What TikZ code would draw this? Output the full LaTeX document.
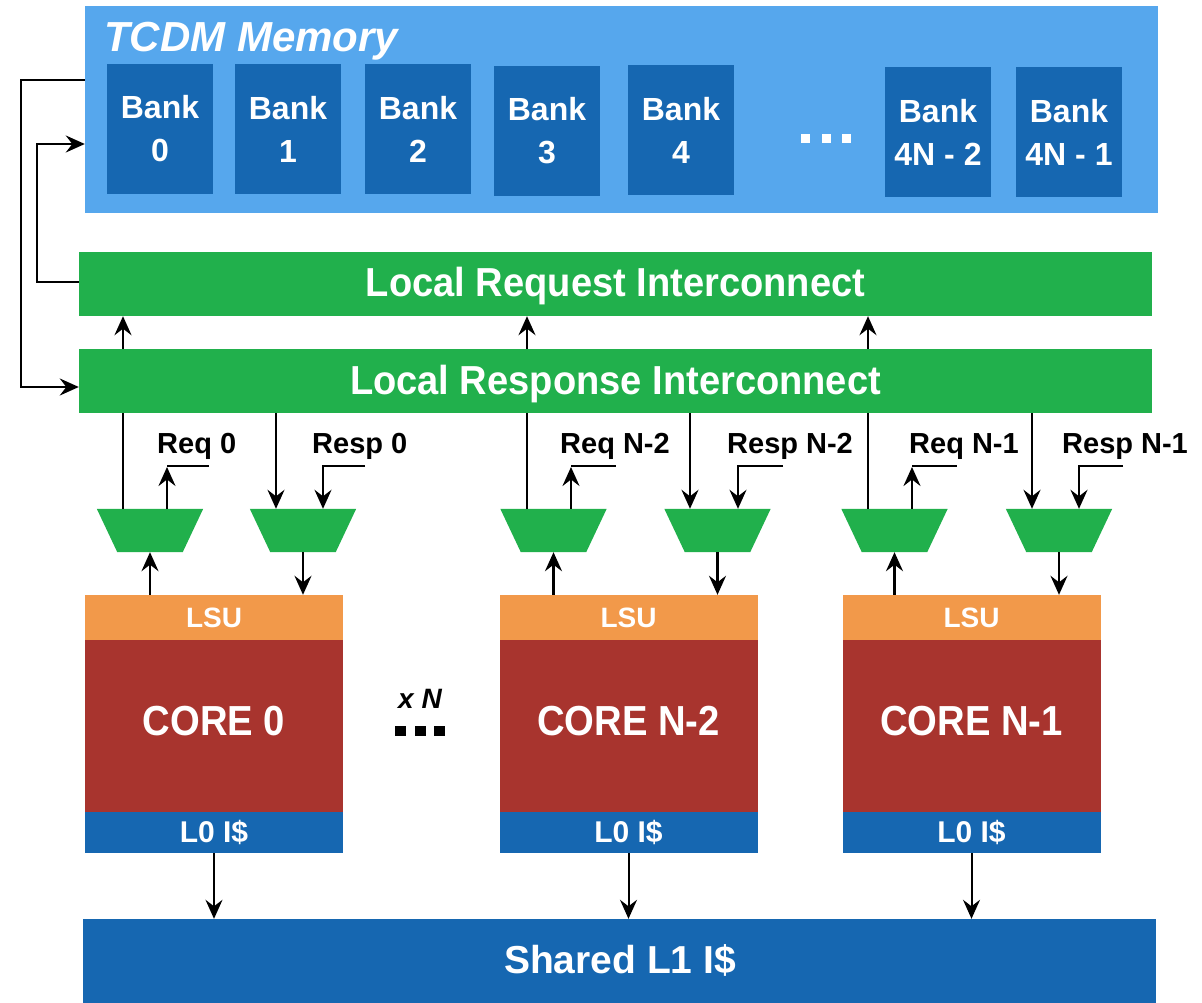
\documentclass[tikz,border=0pt]{standalone}
\usepackage{fontspec}
\setmainfont{Liberation Sans}
\newfontfamily\condsans[FakeStretch=0.94]{Liberation Sans}
\newfontfamily\corefont[FakeStretch=0.91]{Liberation Sans}
\usetikzlibrary{arrows.meta}
\definecolor{tcdmblue}{RGB}{86,167,237}
\definecolor{bankblue}{RGB}{22,103,177}
\definecolor{icgreen}{RGB}{33,176,76}
\definecolor{lsuorange}{RGB}{242,153,74}
\definecolor{corered}{RGB}{168,52,46}
\begin{document}
\begin{tikzpicture}[x=1pt,y=-1pt,
  box/.style={inner sep=0pt, text=white, align=center},
  bankbox/.style={box, fill=bankblue, minimum width=106pt, minimum height=130pt,
    font=\fontsize{32}{43}\selectfont\bfseries},
  icbox/.style={box, fill=icgreen, minimum width=1073pt, minimum height=64pt},
  muxbox/.style={inner sep=0pt, minimum width=106pt, minimum height=43pt},
  lsubox/.style={box, fill=lsuorange, minimum width=258pt, minimum height=45pt},
  corebox/.style={box, fill=corered, minimum width=258pt, minimum height=172pt},
  l0box/.style={box, fill=bankblue, minimum width=258pt, minimum height=41pt},
  txt/.style={inner sep=0pt, anchor=base, text=white},
  ictext/.style={txt, font=\condsans\fontsize{40.5}{42}\selectfont\bfseries},
  coretext/.style={txt, font=\corefont\fontsize{42}{44}\selectfont\bfseries},
  lsutext/.style={txt, font=\fontsize{28}{30}\selectfont\bfseries},
  l0text/.style={txt, font=\fontsize{30}{32}\selectfont\bfseries},
  lbl/.style={inner sep=0pt, anchor=base west, font=\fontsize{29}{30}\selectfont\bfseries},
  arr/.style={draw=black, line width=2.4pt, -{Stealth[length=19pt,width=17pt,inset=6.5pt]}},
  plain/.style={draw=black, line width=2.4pt}
]
\useasboundingbox (0,0) rectangle (1202,1003);
\fill[white] (0,0) rectangle (1202,1003);

% TCDM memory
\node[box, fill=tcdmblue, minimum width=1073pt, minimum height=207pt] (tcdm) at (621.5,109.5) {};
\node[inner sep=0pt, anchor=base west, text=white, font=\fontsize{42}{44}\selectfont\bfseries\itshape] (tcdmt) at (104,52) {TCDM Memory};
\node[bankbox] (b0) at (160,129) {Bank\\0};
\node[bankbox] (b1) at (288,129) {Bank\\1};
\node[bankbox] (b2) at (418,129) {Bank\\2};
\node[bankbox] (b3) at (547,131) {Bank\\3};
\node[bankbox] (b4) at (681,130) {Bank\\4};
\node[bankbox] (b5) at (938,132) {Bank\\4N - 2};
\node[bankbox] (b6) at (1069,132) {Bank\\4N - 1};
\fill[white] (801,134) rectangle (810,143);
\fill[white] (822,134) rectangle (831,143);
\fill[white] (842,134) rectangle (851,143);

% interconnects
\node[icbox] (req) at (615.5,284) {};
\node[icbox] (resp) at (615.5,381) {};
\node[ictext] (reqt) at (615.5,296) {Local Request Interconnect};
\node[ictext] (respt) at (615.5,394) {Local Response Interconnect};

% loop connectors on the left
\draw[arr] (tcdm.west |- 0,80) -- (21,80) -- (21,387) -- (resp.west |- 0,387);
\draw[arr] (req.west |- 0,282) -- (37,282) -- (37,144) -- (tcdm.west |- 0,144);

% muxes
\node[muxbox] (ma0) at (150,530.5) {};
\node[muxbox] (mb0) at (303,530.5) {};
\node[muxbox] (ma1) at (553.5,530.5) {};
\node[muxbox] (mb1) at (717.5,530.5) {};
\node[muxbox] (ma2) at (894.5,530.5) {};
\node[muxbox] (mb2) at (1059,530.5) {};
\foreach \m in {ma0,mb0,ma1,mb1,ma2,mb2}{
  \fill[icgreen] (\m.north west) -- (\m.north east) -- ([xshift=-20.5pt]\m.south east)
    -- ([xshift=20.5pt]\m.south west) -- cycle;
}

% cores
\foreach \i/\x/\n in {0/214/CORE 0, 1/628.5/CORE N-2, 2/971.5/CORE N-1}{
  \node[lsubox] (lsu\i) at (\x,617.5) {};
  \node[corebox] (core\i) at (\x,726) {};
  \node[l0box] (l0\i) at (\x,832.5) {};
  \node[lsutext] (lsut\i) at (\x,627) {LSU};
  \node[coretext] (coret\i) at (\x,735) {\n};
  \node[l0text] (l0t\i) at (\x,842) {L0 I\$};
}
\node[box, fill=bankblue, minimum width=1073pt, minimum height=84pt] (l1) at (619.5,961) {};
\node[txt, font=\fontsize{39}{41}\selectfont\bfseries] (l1t) at (620,973) {Shared L1 I\$};

% x N and dots
\node[inner sep=0pt, anchor=base, font=\fontsize{28}{30}\selectfont\bfseries\itshape] (xn) at (420,708) {x N};
\fill[black] (395,726) rectangle (406,736);
\fill[black] (415,726) rectangle (426,736);
\fill[black] (434,726) rectangle (445,736);

% labels
\node[lbl] (rq0) at (157,453) {Req 0};
\node[lbl] (rs0) at (312,453) {Resp 0};
\node[lbl] (rq1) at (560,453) {Req N-2};
\node[lbl] (rs1) at (727,453) {Resp N-2};
\node[lbl] (rq2) at (909,453) {Req N-1};
\node[lbl] (rs2) at (1062,453) {Resp N-1};

% request paths: mux -> response -> request
\foreach \m/\x in {ma0/123, ma1/527, ma2/868}{
  \draw[plain] (\m.north -| \x,0) -- (resp.south -| \x,0);
  \draw[arr] (resp.north -| \x,0) -- (req.south -| \x,0);
}
% Req labels
\foreach \m/\x/\e in {ma0/167/209, ma1/571/616, ma2/912/957}{
  \draw[arr] (\m.north -| \x,0) -- (\x,467);
  \draw[plain] (\x,466) -- (\e,466);
}
% response paths
\foreach \m/\x in {mb0/276, mb1/690, mb2/1032}{
  \draw[arr] (resp.south -| \x,0) -- (\m.north -| \x,0);
}
\foreach \m/\x/\s in {mb0/323/365, mb1/738/783, mb2/1079/1123}{
  \draw[arr] (\s,466) -| (\m.north -| \x,0);
}
% LSU <-> mux
\foreach \m/\l in {ma0/lsu0, ma1/lsu1, ma2/lsu2}{
  \draw[arr] (\l.north -| \m.south) -- (\m.south);
}
\foreach \m/\l in {mb0/lsu0, mb1/lsu1, mb2/lsu2}{
  \draw[arr] (\m.south) -- (\l.north -| \m.south);
}
% L0 -> shared L1
\foreach \c in {l00,l01,l02}{
  \draw[arr, line width=2pt] (\c.south) -- (l1.north -| \c.south);
}
\end{tikzpicture}
\end{document}
